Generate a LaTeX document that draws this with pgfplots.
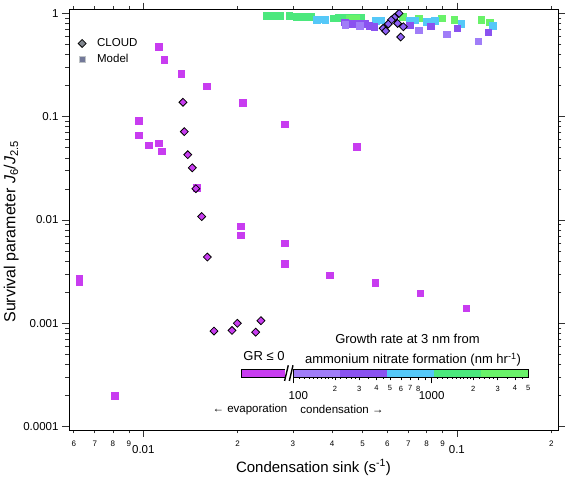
\documentclass[border=0pt]{standalone}
\usepackage{fontspec}
\setmainfont{Liberation Sans}
\usepackage{pgfplots}
\pgfplotsset{compat=1.18}
\definecolor{mag}{RGB}{200,60,240}
\definecolor{lpur}{RGB}{160,125,248}
\definecolor{dpur}{RGB}{138,82,240}
\definecolor{dia}{RGB}{142,96,245}
\definecolor{cya}{RGB}{85,200,248}
\definecolor{grn}{RGB}{75,232,125}
\definecolor{lgrn}{RGB}{105,242,105}
\definecolor{lgray}{RGB}{128,134,142}
\begin{document}
\begin{tikzpicture}[x=1pt,y=1pt]
\useasboundingbox (-69,-48) rectangle (498,430);
\begin{axis}[
  at={(0pt,0pt)}, anchor=south west, scale only axis,
  width=489pt, height=420.5pt,
  xmode=log, ymode=log,
  xmin=0.005794, xmax=0.2101, ymin=9.27e-5, ymax=1.091,
  axis line style={line width=0.8pt},
  tick align=outside, xtick pos=both, ytick pos=both,
  xticklabel pos=lower, yticklabel pos=left,
  tick style={line width=0.6pt, black!80},
  major tick length=7pt, minor tick length=3.5pt,
  xtick={0.01,0.1}, xticklabels={0.01,0.1},
  minor xtick={0.006,0.007,0.008,0.009,0.02,0.03,0.04,0.05,0.06,0.07,0.08,0.09,0.2},
  xticklabel style={font=\fontsize{11.5}{12}\selectfont, yshift=-5pt},
  extra x ticks={0.006,0.007,0.008,0.009,0.02,0.03,0.04,0.05,0.06,0.07,0.08,0.09,0.2},
  extra x tick labels={6,7,8,9,2,3,4,5,6,7,8,9,2},
  extra x tick style={tick style={draw=none}, xticklabel style={font=\fontsize{8}{9}\selectfont, yshift=5pt}},
  ytick={0.0001,0.001,0.01,0.1,1}, yticklabels={0.0001,0.001,0.01,0.1,1},
  minor ytick={0.0002,0.0003,0.0004,0.0005,0.0006,0.0007,0.0008,0.0009,
    0.002,0.003,0.004,0.005,0.006,0.007,0.008,0.009,
    0.02,0.03,0.04,0.05,0.06,0.07,0.08,0.09,
    0.2,0.3,0.4,0.5,0.6,0.7,0.8,0.9},
  yticklabel style={font=\fontsize{11.5}{12}\selectfont},
  xlabel={Condensation sink (s\textsuperscript{-1})},
  ylabel={Survival parameter \textit{J}\textsubscript{6}/\textit{J}\textsubscript{2.5}},
  xlabel style={at={(axis description cs:0.5,-0.089)}, anchor=center, font=\fontsize{15}{17}\selectfont},
  ylabel style={at={(axis description cs:-0.118,0.472)}, anchor=center, font=\fontsize{16}{18}\selectfont},
  legend style={at={(axis description cs:0,1)}, anchor=north west, draw=none, fill=none,
    font=\fontsize{11.5}{13}\selectfont, xshift=6pt, yshift=-25pt, row sep=2pt},
  legend image code/.code={\path[draw=none,fill=none] (0pt,0pt) -- (13pt,0pt); \draw[#1] plot coordinates {(0pt,0pt)};},
  legend cell align=left,
  clip=false,
]
\addlegendimage{only marks, mark=square*, mark size=2.8pt, mark options={rotate=45, fill=lgray, draw=black, line width=0.8pt}}
\addlegendentry{CLOUD}
\addlegendimage{only marks, mark=square*, mark size=3.2pt, mark options={fill=lgray!90!blue, draw=lgray!50!white, line width=0.5pt}}
\addlegendentry{Model}
% Model, GR <= 0 (evaporation)
\addplot[only marks, mark=square*, mark size=3.3pt, color=mag, forget plot] coordinates {
(0.00625,0.00270)(0.00625,0.00250)(0.00812,0.000198)
(0.00967,0.0914)(0.00967,0.066)(0.0104,0.0528)(0.0112,0.473)(0.0112,0.0552)
(0.01145,0.0465)(0.01167,0.356)(0.01322,0.261)(0.01479,0.0206)(0.0159,0.198)
(0.0207,0.136)(0.0204,0.00869)(0.0204,0.00711)(0.0283,0.0844)(0.0282,0.00595)
(0.0282,0.00378)(0.0393,0.00293)(0.048,0.051)(0.0549,0.00247)(0.0764,0.00195)(0.107,0.0014)
};
% Model, growth coloured
\addplot[only marks, mark=square*, mark size=3.3pt, color=grn, forget plot] coordinates {
(0.0247,0.945)(0.0256,0.945)(0.0265,0.945)(0.0273,0.945)(0.0292,0.95)(0.0309,0.935)
(0.0318,0.935)(0.0330,0.93)(0.0343,0.93)(0.0403,0.90)(0.0420,0.91)
(0.0445,0.91)(0.0470,0.91)(0.0495,0.91)
};
\addplot[only marks, mark=square*, mark size=3.3pt, color=lgrn, forget plot] coordinates {
(0.0456,0.90)(0.0476,0.89)(0.0672,0.93)(0.0756,0.90)(0.0895,0.90)(0.0979,0.87)
(0.1197,0.87)(0.1270,0.825)
};
\addplot[only marks, mark=square*, mark size=3.3pt, color=cya, forget plot] coordinates {
(0.0357,0.87)(0.0366,0.88)(0.0380,0.87)(0.0550,0.85)(0.0574,0.86)(0.0708,0.85)
(0.0734,0.86)(0.0802,0.83)(0.0851,0.85)(0.1032,0.80)(0.1299,0.76)
};
\addplot[only marks, mark=square*, mark size=3.3pt, color=dpur, forget plot] coordinates {
(0.0439,0.82)(0.0450,0.80)(0.0465,0.79)(0.0480,0.80)(0.0495,0.79)(0.0510,0.80)
(0.0525,0.76)(0.0545,0.74)(0.0708,0.77)(0.0826,0.75)(0.1001,0.72)(0.1260,0.66)
};
\addplot[only marks, mark=square*, mark size=3.3pt, color=lpur, forget plot] coordinates {
(0.0756,0.69)(0.0929,0.63)(0.1170,0.54)(0.0440,0.78)(0.0490,0.76)
};
% CLOUD measurements
\addplot[only marks, mark=square*, mark size=2.8pt, mark options={rotate=45, fill=mag, draw=black, line width=0.8pt}, forget plot] coordinates {
(0.01338,0.138)(0.01351,0.0717)(0.01386,0.0429)(0.01433,0.032)(0.01471,0.0201)
(0.01535,0.0108)(0.0160,0.00438)(0.0168,0.000841)(0.01918,0.000853)(0.01995,0.001)
(0.02282,0.00082)(0.02372,0.00106)
};
\addplot[only marks, mark=square*, mark size=2.8pt, mark options={rotate=45, fill=dia, draw=black, line width=0.8pt}, forget plot] coordinates {
(0.0654,1.0)(0.0632,0.912)(0.0618,0.863)(0.0604,0.789)(0.0582,0.717)(0.0593,0.676)
(0.0647,0.80)(0.0675,0.743)(0.0662,0.591)
};
\end{axis}
% colour bar
\begin{axis}[
  at={(224.3pt,52.7pt)}, anchor=south west, scale only axis,
  width=235pt, height=8pt,
  xmode=log, xmin=100, xmax=5000, ymin=0, ymax=1,
  clip=false, axis on top,
  axis line style={line width=0.8pt},
  tick align=outside, xtick pos=lower, ytick=\empty,
  tick style={line width=0.6pt, black},
  major tick length=6pt, minor tick length=3pt,
  xtick={100,1000}, xticklabels={\hspace*{10pt}100,1000},
  xticklabel style={font=\fontsize{11.5}{12}\selectfont, yshift=-5pt},
  minor xtick={200,300,400,500,600,700,800,900,2000,3000,4000},
  extra x ticks={200,300,400,500,600,700,800,2000,3000,4000,5000},
  extra x tick labels={2,3,4,5,6,7,8,2,3,4,5},
  extra x tick style={tick style={draw=none}, xticklabel style={font=\fontsize{7.5}{8}\selectfont, yshift=6pt}},
]
\addplot[fill=lpur, draw=none] coordinates {(100,0)(218.7,0)(218.7,1)(100,1)};
\addplot[fill=dpur, draw=none] coordinates {(218.7,0)(478.2,0)(478.2,1)(218.7,1)};
\addplot[fill=cya, draw=none] coordinates {(478.2,0)(1045.6,0)(1045.6,1)(478.2,1)};
\addplot[fill=grn, draw=none] coordinates {(1045.6,0)(2286.5,0)(2286.5,1)(1045.6,1)};
\addplot[fill=lgrn, draw=none] coordinates {(2286.5,0)(5000,0)(5000,1)(2286.5,1)};
\addplot[fill=mag, draw=black, line width=0.8pt] coordinates {(87.5,0)(41.8,0)(41.8,1)(87.5,1)};
\addplot[ycomb, no marks, black, line width=0.4pt] coordinates {
(110,-0.2)(120,-0.2)(130,-0.2)(140,-0.2)(150,-0.2)(160,-0.2)(170,-0.2)(180,-0.2)(190,-0.2)
(220,-0.2)(240,-0.2)(260,-0.2)(280,-0.2)(350,-0.2)(450,-0.2)
(1100,-0.2)(1200,-0.2)(1300,-0.2)(1400,-0.2)(1500,-0.2)(1600,-0.2)(1700,-0.2)(1800,-0.2)(1900,-0.2)
(2200,-0.2)(2400,-0.2)(2600,-0.2)(2800,-0.2)(3500,-0.2)(4500,-0.2)};
\addplot[fill=white, draw=none] coordinates {(86.5,-0.45)(93.9,-0.45)(99.5,1.5)(92.3,1.5)};
\addplot[black, line width=1.4pt] coordinates {(86.5,-0.45)(92.0,1.5)};
\addplot[black, line width=1.4pt] coordinates {(93.6,-0.45)(99.5,1.5)};
\end{axis}
\node[font=\fontsize{13}{15}\selectfont] at (338.5,90.7) {Growth rate at 3 nm from};
\node[font=\fontsize{13}{15}\selectfont] at (344,70) {ammonium nitrate formation (nm hr\textsuperscript{-1})};
\node[font=\fontsize{13}{15}\selectfont] at (195,74) {GR ≤ 0};
\node[font=\fontsize{11.5}{13}\selectfont] at (181,20.7) {← evaporation};
\node[font=\fontsize{11.5}{13}\selectfont] at (273,20.7) {condensation →};
\end{tikzpicture}
\end{document}
